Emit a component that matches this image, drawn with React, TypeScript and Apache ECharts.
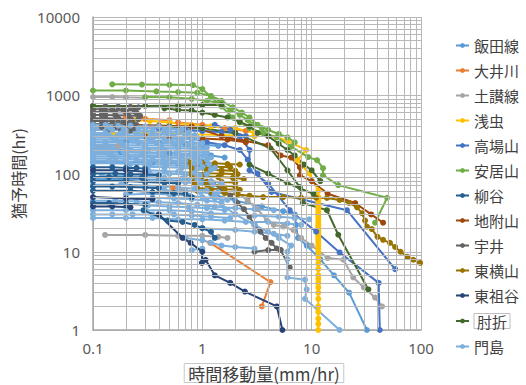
import React, { useEffect, useRef } from 'react';
import * as echarts from 'echarts';

type Seg = number[][];

const seriesNames = ['飯田線', '大井川', '土讃線', '浅虫', '高場山', '安居山', '柳谷', '地附山', '宇井', '東横山', '東祖谷', '肘折', '門島'];
const seriesColors = ['#5B9BD5', '#ED7D31', '#A5A5A5', '#FFC000', '#4472C4', '#70AD47', '#255E91', '#9E480E', '#636363', '#997300', '#264478', '#43682B', '#7CAFDD'];
const xTickLabels = ['0.1', '1', '10', '100'];
const yTickLabels = ['1', '10', '100', '1000', '10000'];
const xTitle = '時間移動量(mm/hr)';
const yTitle = '猶予時間(hr)';

const iidaSegs: Seg[] = [
  [[0.1, 250], [0.2, 250], [0.4, 245], [0.7, 240], [1.0, 235], [1.4, 225]],
  [[0.1, 190], [0.18, 188], [0.3, 185], [0.5, 182], [0.8, 178], [1.2, 170], [1.6, 160]],
  [[0.1, 140], [0.2, 140], [0.35, 138], [0.6, 135], [0.9, 130], [1.3, 125]],
  [[0.1, 85], [0.2, 85], [0.4, 83], [0.7, 80], [1.0, 78]],
  [[0.7, 360], [1.0, 350], [1.5, 340]],
  [[1.2, 55], [2, 45], [3.5, 38], [5.5, 33], [7, 30], [7.2, 22], [7.5, 15], [9, 12], [12, 8], [16, 5], [22, 3], [32, 1]],
];
const ooiSegs: Seg[] = [
  [[0.2, 510], [0.3, 500], [0.5, 480]],
  [[0.6, 450], [1, 420], [1.6, 380], [2.5, 350]],
  [[0.54, 66], [0.7, 60]],
  [[1.18, 13], [4.2, 4.1], [3.5, 2.0]],
];
const dosanSegs: Seg[] = [
  [[0.1, 950], [0.15, 950], [0.2, 940], [0.3, 930]],
  [[0.1, 230], [0.13, 230], [0.17, 226], [0.2, 225]],
  [[0.1, 190], [0.14, 190], [0.2, 186]],
  [[0.129, 16.4], [0.3, 16.4], [0.6, 16], [1.0, 16], [1.4, 15.5], [1.7, 15]],
  [[2, 60], [2.6, 45], [3.2, 35], [3.9, 25], [4.5, 22], [5.5, 21], [6.8, 19], [8, 15], [10, 12], [14, 8.3], [19.5, 7.9], [24, 4.7], [30, 3.5], [38, 2.6], [44, 2.0]],
];
const asamushiSegs: Seg[] = [
  [[0.15, 330], [0.3, 330], [0.7, 320], [1.5, 310], [3, 300]],
  [[0.25, 480], [0.33, 470], [0.5, 450], [0.8, 420], [1.2, 400], [2, 380], [3, 330], [4.8, 290], [6, 260], [8.9, 200], [7.4, 148], [9.5, 100], [11.5, 60],
    [11.5, 50], [11.5, 46], [11.5, 42], [11.5, 38], [11.5, 35], [11.5, 32], [11.5, 30], [11.5, 28], [11.5, 26], [11.5, 24], [11.5, 22], [11.5, 21], [11.5, 20], [11.5, 19],
    [11.5, 18], [11.5, 17], [11.5, 16], [11.5, 15], [11.5, 14], [11.5, 13], [11.5, 12], [11.5, 11], [11.5, 10], [11.5, 9], [11.5, 8], [11.5, 7], [11.5, 6], [11.5, 5],
    [11.5, 4.5], [11.5, 4], [11.5, 3.5], [11.5, 3], [11.5, 2.5], [11.5, 2], [11.5, 1.7], [11.5, 1.4], [11.5, 1.2], [11.5, 1]],
];
const takabaSegs: Seg[] = [
  [[0.4, 380], [0.7, 360], [1, 350], [1.5, 340], [2, 330], [2.5, 300]],
  [[0.5, 300], [0.8, 280], [1.1, 250], [1.6, 230], [2.2, 200], [2.6, 150], [3.2, 100], [4.3, 58], [21, 34], [58, 6]],
  [[1.3, 420], [1.8, 360], [2.2, 300], [2.7, 200], [2.7, 110], [4, 75], [6.3, 34], [11, 18], [18, 9.8], [41, 4], [42, 1]],
];
const oriyamaSegs: Seg[] = [
  [[0.15, 1380], [0.28, 1370], [0.5, 1360], [0.82, 1350], [1.0, 1200], [1.2, 950], [1.5, 720], [1.9, 520], [2.2, 450], [2.7, 380], [3.6, 330], [4.8, 290],
    [6.5, 220], [9.3, 162], [11.2, 148], [12.7, 117], [12.7, 95], [17.5, 71], [49, 49], [38, 23.5]],
  [[0.1, 1150], [0.2, 1150], [0.38, 1120], [0.6, 1100], [0.9, 1080], [1.2, 980], [1.5, 850], [1.9, 700], [2.3, 600], [2.7, 520], [3.2, 420], [4, 360], [5, 320], [6, 290], [7, 250]],
  [[0.3, 950], [0.5, 940], [0.8, 900], [1.1, 850], [1.4, 800], [1.8, 650], [2.2, 560], [2.6, 480], [3.0, 420], [3.5, 380]],
];
const yanagidaniSegs: Seg[] = [
  [[0.1, 120], [0.15, 120], [0.2, 118], [0.25, 118], [0.3, 115]],
  [[0.1, 100], [0.16, 100], [0.22, 98], [0.3, 97], [0.4, 95]],
  [[0.1, 90], [0.14, 90], [0.2, 89], [0.28, 88]],
  [[0.1, 80], [0.2, 80], [0.3, 78], [0.45, 76], [0.6, 75]],
  [[0.1, 68], [0.15, 68], [0.22, 67], [0.3, 66], [0.4, 65]],
  [[0.1, 60], [0.22, 60], [0.35, 58], [0.55, 56], [0.7, 55], [0.8, 50]],
  [[0.1, 42], [0.14, 42], [0.2, 41], [0.3, 40]],
  [[0.29, 34], [0.48, 25], [0.66, 24], [0.85, 22], [1.0, 20], [1.2, 18], [1.3, 15]],
];
const jizukiSegs: Seg[] = [
  [[0.3, 300], [0.5, 290], [1, 280], [1.7, 270], [2.5, 250]],
  [[0.2, 420], [0.4, 410], [0.8, 400], [1.5, 300], [2.5, 260], [4, 230], [5.2, 170], [6.5, 160], [7.8, 120], [7.8, 95], [10, 80], [14, 55], [25, 42], [35, 30], [45, 23.5]],
];
const uiSegs: Seg[] = [
  [[0.1, 720], [0.13, 720], [0.17, 715], [0.22, 710], [0.26, 700]],
  [[0.1, 660], [0.12, 660], [0.15, 655], [0.19, 650], [0.24, 645]],
  [[0.1, 610], [0.13, 610], [0.16, 605], [0.2, 600], [0.25, 595]],
  [[0.1, 560], [0.12, 560], [0.16, 555], [0.21, 550], [0.27, 545]],
  [[0.1, 510], [0.13, 510], [0.17, 505], [0.22, 500], [0.26, 495]],
  [[0.1, 470], [0.12, 470], [0.15, 465], [0.19, 460], [0.23, 455]],
  [[0.1, 430], [0.13, 430], [0.17, 425], [0.21, 420], [0.25, 415]],
  [[0.1, 395], [0.12, 395], [0.16, 390], [0.2, 385], [0.24, 380]],
  [[0.1, 365], [0.14, 365], [0.18, 360], [0.22, 355]],
  [[1.25, 75], [1.5, 62], [1.8, 52], [2.1, 42], [2.4, 35], [2.7, 28], [3.0, 22], [3.4, 18], [3.8, 15], [4.3, 13], [4.8, 11], [5.2, 10.5]],
  [[3, 10], [4, 10.5], [5.2, 10.5], [6.3, 6.3]],
];
const higashiyokoSegs: Seg[] = [
  [[0.75, 140], [1.0, 138], [1.3, 135], [1.7, 132], [2.2, 130]],
  [[0.8, 125], [1.0, 124], [1.3, 122], [1.8, 120]],
  [[0.8, 115], [1.1, 112], [1.5, 110], [2.0, 108]],
  [[0.8, 103], [1.1, 101], [1.5, 100], [2.1, 98]],
  [[0.8, 95], [1.0, 92], [1.4, 90], [1.9, 88], [2.4, 85]],
  [[0.85, 80], [1.1, 79], [1.5, 78], [2.0, 77]],
  [[0.85, 75], [1.1, 72], [1.5, 70], [2.0, 68]],
  [[0.9, 65], [1.2, 64], [1.6, 63], [2.2, 62]],
  [[0.9, 60], [1.2, 58], [1.6, 56], [2.1, 54], [2.7, 52], [3.6, 50], [5.5, 50], [8, 49], [11, 49], [13.8, 48.6], [18, 46], [22, 42], [26, 37], [29, 31],
    [30.8, 25], [32, 21], [35.5, 19.5], [40, 15.5], [45, 14.2], [52, 13], [58, 11.5], [65, 10], [75, 8.6], [85, 7.9], [98, 7.2]],
];
const higashiiyaSegs: Seg[] = [
  [[0.1, 110], [0.2, 110], [0.3, 105]],
  [[0.1, 50], [0.2, 48], [0.35, 47]],
  [[0.1, 38], [0.15, 38], [0.22, 37]],
  [[0.4, 30], [0.66, 15], [0.78, 13], [1.0, 10], [0.99, 7.2], [1.07, 7.9], [1.3, 5], [1.8, 4], [2.45, 3.1], [4.8, 2], [5.4, 1]],
];
const hijioriSegs: Seg[] = [
  [[0.1, 730], [0.3, 730], [0.6, 740], [1.0, 750], [1.5, 750]],
  [[0.45, 680], [0.6, 650], [0.8, 640], [1.0, 600], [1.3, 560], [1.7, 520], [2.2, 460], [2.7, 400], [3.2, 330], [4, 300], [5, 240], [6, 200], [7, 170], [8.5, 130], [10, 110], [12, 80]],
  [[0.5, 400], [1, 380], [2, 330], [4.2, 210], [6, 110], [7.8, 67], [8.3, 42], [13.8, 34], [17.5, 16.5], [33, 3.3]],
  [[2.7, 130], [4, 100], [6, 75], [10.4, 55]],
];
const kadoshimaSegs: Seg[] = [
  [[0.1, 420], [0.13, 420], [0.17, 410], [0.22, 410], [0.3, 400], [0.4, 400], [0.5, 390]],
  [[0.1, 385], [0.14, 385], [0.19, 380], [0.26, 378], [0.35, 375], [0.5, 370], [0.65, 365]],
  [[0.1, 360], [0.15, 360], [0.2, 355], [0.3, 350], [0.45, 345], [0.6, 340], [0.75, 335]],
  [[0.1, 330], [0.13, 330], [0.18, 328], [0.25, 325], [0.35, 322], [0.5, 318], [0.7, 315], [0.85, 310]],
  [[0.1, 310], [0.14, 310], [0.2, 305], [0.28, 300], [0.4, 300], [0.55, 295], [0.7, 290], [0.9, 285]],
  [[0.1, 288], [0.15, 288], [0.22, 285], [0.32, 282], [0.45, 280], [0.6, 276], [0.8, 272]],
  [[0.1, 270], [0.16, 270], [0.25, 265], [0.35, 262], [0.5, 260], [0.65, 255], [0.8, 250], [1.0, 245]],
  [[0.1, 252], [0.13, 252], [0.18, 250], [0.26, 248], [0.38, 245], [0.55, 242], [0.75, 238], [0.95, 232]],
  [[0.1, 235], [0.13, 235], [0.2, 232], [0.3, 230], [0.42, 228], [0.6, 225], [0.8, 220], [1.1, 215]],
  [[0.1, 218], [0.14, 218], [0.2, 216], [0.3, 214], [0.42, 212], [0.6, 210], [0.85, 206], [1.05, 202]],
  [[0.1, 205], [0.15, 205], [0.22, 200], [0.32, 200], [0.45, 198], [0.6, 195], [0.85, 190], [1.1, 185]],
  [[0.1, 190], [0.13, 190], [0.19, 188], [0.28, 186], [0.4, 184], [0.58, 182], [0.8, 178], [1.05, 174]],
  [[0.1, 178], [0.14, 178], [0.2, 175], [0.3, 172], [0.45, 170], [0.65, 168], [0.9, 165], [1.2, 160]],
  [[0.1, 166], [0.15, 166], [0.21, 164], [0.3, 162], [0.44, 160], [0.62, 158], [0.85, 155], [1.1, 150]],
  [[0.1, 155], [0.16, 155], [0.25, 152], [0.35, 150], [0.5, 148], [0.7, 145], [0.95, 140]],
  [[0.1, 145], [0.14, 145], [0.2, 143], [0.3, 142], [0.42, 140], [0.6, 138], [0.85, 135], [1.15, 132]],
  [[0.1, 135], [0.15, 135], [0.22, 132], [0.33, 130], [0.48, 128], [0.7, 125], [1.0, 122], [1.3, 118]],
  [[0.3, 122], [0.45, 120], [0.65, 118], [0.9, 115], [1.2, 112]],
  [[0.32, 110], [0.45, 108], [0.6, 105], [0.85, 102], [1.1, 98]],
  [[0.33, 101], [0.5, 99], [0.7, 97], [0.95, 94]],
  [[0.12, 93], [0.2, 93], [0.3, 91], [0.45, 88], [0.65, 86], [0.9, 84], [1.2, 80], [1.5, 75]],
  [[0.3, 80], [0.5, 79], [0.7, 77], [0.95, 75], [1.25, 72]],
  [[0.1, 72], [0.18, 72], [0.3, 70], [0.45, 68], [0.6, 66], [0.85, 64], [1.1, 60], [1.4, 58]],
  [[0.45, 61], [0.7, 60], [0.95, 58], [1.3, 55]],
  [[0.2, 54], [0.35, 55], [0.5, 54], [0.75, 52], [1.0, 50], [1.3, 48], [1.7, 46]],
  [[0.35, 49], [0.55, 48], [0.8, 47], [1.1, 45], [1.5, 43]],
  [[0.1, 45], [0.16, 45], [0.25, 44], [0.4, 43], [0.6, 42], [0.9, 40], [1.3, 38], [2, 36], [3, 35], [4.5, 34]],
  [[0.32, 39], [0.5, 38], [0.75, 37], [1.1, 36], [1.6, 34]],
  [[0.1, 34], [0.2, 34], [0.3, 34], [0.5, 34], [0.8, 33], [1.2, 31], [2, 30], [3, 29], [5, 28], [7, 27], [9.5, 26]],
  [[0.1, 30], [0.15, 30], [0.23, 30], [0.35, 30], [0.55, 30], [0.8, 29], [1.2, 28], [1.8, 27]],
  [[0.1, 27], [0.2, 27], [0.35, 27], [0.6, 26], [1, 26], [1.6, 25], [2.5, 24], [4, 24], [6, 23], [8, 22]],
  [[1, 20], [2, 19], [3, 18], [4.5, 17], [6, 16]],
  [[0.7, 15], [1, 14], [1.2, 13], [1.5, 12], [2, 11.5], [3, 11]],
  [[0.8, 10.5], [1.0, 11]],
  [[1.5, 40], [2, 30], [3, 22], [4, 18], [5, 15], [6.5, 12], [6, 10], [6, 8], [6, 4.7], [8.7, 4.4], [9, 3.3], [8.7, 2.5], [18, 1]],
];

const allSegs: Seg[][] = [iidaSegs, ooiSegs, dosanSegs, asamushiSegs, takabaSegs, oriyamaSegs, yanagidaniSegs, jizukiSegs, uiSegs, higashiyokoSegs, higashiiyaSegs, hijioriSegs, kadoshimaSegs];
const raisedSeries = ['柳谷', '東祖谷'];

const decadesX = [0.1, 1, 10];
const decadesY = [1, 10, 100, 1000];
const mult = [2, 3, 4, 5, 6, 7, 8, 9];

function joinSegs(segs: Seg[]) {
  const out: (number | null)[][] = [];
  segs.forEach((s, i) => {
    if (i > 0) out.push([null, null]);
    s.forEach((p) => out.push(p));
  });
  return out;
}

export default function App() {
  const ref = useRef<HTMLDivElement>(null);
  useEffect(() => {
    const chart = echarts.init(ref.current!, null, { renderer: 'svg' });
    const font = '"Noto Sans CJK JP", "Noto Sans", sans-serif';
    const gridColor = '#B8B8B8';
    const minorLines = [
      ...decadesX.flatMap((d) => mult.map((m) => ({ xAxis: +(d * m).toPrecision(3) }))),
      ...decadesY.flatMap((d) => mult.map((m) => ({ yAxis: d * m }))),
    ];
    const series: any[] = [
      {
        name: 'grid',
        type: 'line',
        data: [],
        z: 1,
        silent: true,
        markLine: {
          silent: true,
          symbol: ['none', 'none'],
          label: { show: false },
          lineStyle: { color: gridColor, width: 1, type: 'solid' },
          emphasis: { disabled: true },
          data: minorLines,
        },
      },
      ...seriesNames.map((name, i) => ({
        name,
        type: 'line',
        data: joinSegs(allSegs[i]),
        symbol: 'circle',
        symbolSize: 6,
        showSymbol: true,
        connectNulls: false,
        clip: true,
        z: raisedSeries.includes(name) ? 4 : 3,
        lineStyle: { width: 2, color: seriesColors[i] },
        itemStyle: { color: seriesColors[i] },
        emphasis: { disabled: true },
      })),
    ];
    chart.setOption({
      animation: false,
      textStyle: { fontFamily: font },
      grid: { left: 93, right: 105, top: 17, bottom: 55, containLabel: false },
      legend: {
        orient: 'vertical',
        left: 450,
        top: 33,
        itemWidth: 13,
        itemHeight: 6,
        itemGap: 10,
        textStyle: { fontSize: 15, color: '#404040', fontFamily: font },
        data: seriesNames.map((n) =>
          n === '肘折' ? { name: n, textStyle: { borderColor: '#BFBFBF', borderWidth: 1, padding: [0, 3] } } : n
        ),
      },
      graphic: [
        {
          type: 'text',
          x: 264,
          y: 373,
          silent: true,
          style: {
            text: xTitle,
            fontSize: 17,
            fontFamily: font,
            fill: '#404040',
            align: 'center',
            verticalAlign: 'middle',
            borderColor: '#C8C8C8',
            borderWidth: 1,
            padding: [1, 4],
          },
        },
      ],
      xAxis: {
        type: 'log',
        logBase: 10,
        min: 0.1,
        max: 100,
        axisLine: { show: true, lineStyle: { color: '#A6A6A6', width: 1.5 } },
        axisTick: { show: false },
        axisLabel: { fontSize: 15, color: '#595959', margin: 10, fontFamily: '"Noto Sans", sans-serif', formatter: (v: number) => xTickLabels.find((t) => +t === v) ?? '' },
        splitLine: { show: true, lineStyle: { color: gridColor, width: 1 } },
      },
      yAxis: {
        type: 'log',
        logBase: 10,
        min: 1,
        max: 10000,
        name: yTitle,
        nameLocation: 'middle',
        nameGap: 60,
        nameTextStyle: { fontSize: 16, color: '#404040', fontFamily: font },
        axisLine: { show: true, lineStyle: { color: '#A6A6A6', width: 1.5 } },
        axisTick: { show: false },
        axisLabel: { fontSize: 15, color: '#595959', margin: 13, fontFamily: '"Noto Sans", sans-serif', formatter: (v: number) => yTickLabels.find((t) => +t === v) ?? '' },
        splitLine: { show: true, lineStyle: { color: gridColor, width: 1 } },
      },
      series,
    });
    return () => chart.dispose();
  }, []);
  return <div ref={ref} style={{ position: 'absolute', left: 0, top: 0, width: 526, height: 385 }} />;
}
